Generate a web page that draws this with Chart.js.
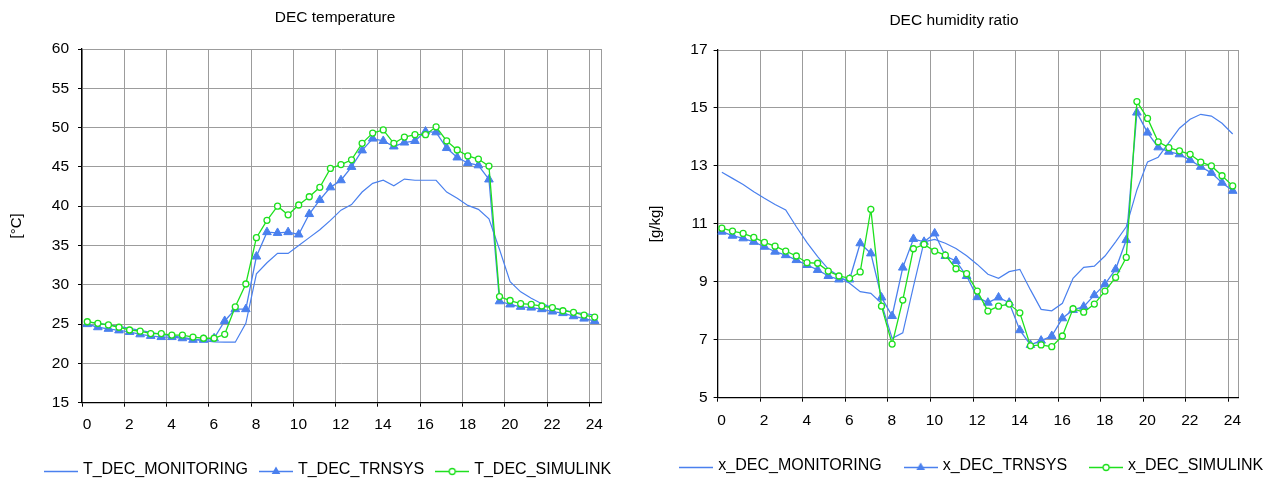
<!DOCTYPE html>
<html>
<head>
<meta charset="utf-8">
<script src="https://cdn.jsdelivr.net/npm/chart.js@4.4.1/dist/chart.umd.min.js"></script>
<style>
  body { margin: 0; background: #fff; width: 1279px; height: 483px; overflow: hidden; position: relative; }
  canvas { position: absolute; top: 0; }
  #tempChart { left: 0; }
  #humChart { left: 640px; }
</style>
</head>
<body>
<canvas id="tempChart" width="640" height="483"></canvas>
<canvas id="humChart" width="639" height="483"></canvas>
<script>
// hour of day, half-hour steps
const hours = [0, 0.5, 1, 1.5, 2, 2.5, 3, 3.5, 4, 4.5, 5, 5.5, 6, 6.5, 7, 7.5, 8, 8.5, 9, 9.5,
  10, 10.5, 11, 11.5, 12, 12.5, 13, 13.5, 14, 14.5, 15, 15.5, 16, 16.5, 17, 17.5, 18, 18.5, 19, 19.5,
  20, 20.5, 21, 21.5, 22, 22.5, 23, 23.5, 24];
const hourTicks = [0, 2, 4, 6, 8, 10, 12, 14, 16, 18, 20, 22, 24];
const tempTicks = [15, 20, 25, 30, 35, 40, 45, 50, 55, 60];
const humTicks = [5, 7, 9, 11, 13, 15, 17];

// DEC temperature [°C]
const tempMonitoring = [25.3, 25.1, 24.9, 24.7, 24.45, 24.2, 23.95, 23.7, 23.5, 23.3, 23.1, 22.9, 22.75, 22.7, 22.7, 25.1,
  31.4, 32.8, 34.0, 34.0, 35.0, 36.0, 37.0, 38.2, 39.5, 40.2, 41.8, 42.9, 43.3, 42.6, 43.45, 43.3,
  43.3, 43.3, 41.8, 41.0, 40.1, 39.6, 38.4, 34.5, 30.4, 29.1, 28.3, 27.6, 27.1, 26.8, 26.5, 26.35, 26.15];
const tempTrnsys = [25.0, 24.6, 24.4, 24.2, 24.0, 23.7, 23.5, 23.35, 23.35, 23.2, 23.0, 23.0, 23.2, 25.4, 26.9, 26.9,
  33.6, 36.7, 36.6, 36.7, 36.4, 39.0, 40.8, 42.4, 43.3, 45.0, 47.1, 48.6, 48.3, 47.6, 48.1, 48.3,
  49.5, 49.4, 47.4, 46.2, 45.5, 45.2, 43.4, 27.9, 27.5, 27.2, 27.1, 26.9, 26.6, 26.4, 26.0, 25.7, 25.4];
const tempSimulink = [25.3, 25.1, 24.9, 24.6, 24.25, 24.1, 23.8, 23.8, 23.6, 23.6, 23.35, 23.2, 23.2, 23.7, 27.2, 30.1,
  36.0, 38.2, 40.0, 38.9, 40.15, 41.2, 42.4, 44.8, 45.3, 45.9, 48.0, 49.3, 49.7, 48.0, 48.8, 49.1,
  49.1, 50.1, 48.3, 47.15, 46.4, 46.0, 45.1, 28.5, 28.0, 27.6, 27.5, 27.3, 27.1, 26.7, 26.5, 26.15, 25.9];

// DEC humidity ratio [g/kg]
const humMonitoring = [12.78, 12.57, 12.36, 12.11, 11.88, 11.67, 11.48, 10.9, 10.35, 9.87, 9.44, 9.2, 8.95, 8.66, 8.6, 8.26,
  7.05, 7.24, 8.83, 10.38, 10.46, 10.33, 10.15, 9.9, 9.6, 9.26, 9.12, 9.35, 9.43, 8.72, 8.05, 8.0,
  8.26, 9.12, 9.5, 9.54, 9.89, 10.38, 10.9, 12.17, 13.14, 13.3, 13.8, 14.3, 14.61, 14.78, 14.72, 14.47, 14.1];
const humTrnsys = [10.73, 10.59, 10.5, 10.38, 10.21, 10.04, 9.92, 9.75, 9.58, 9.41, 9.2, 9.08, 9.08, 10.33, 9.98, 8.46,
  7.82, 9.49, 10.48, 10.38, 10.67, 9.89, 9.72, 9.2, 8.47, 8.28, 8.46, 8.28, 7.33, 6.82, 6.97, 7.13,
  7.74, 8.03, 8.14, 8.54, 8.92, 9.43, 10.44, 14.84, 14.15, 13.64, 13.49, 13.4, 13.2, 12.97, 12.76, 12.42, 12.14];
const humSimulink = [10.85, 10.75, 10.67, 10.53, 10.36, 10.23, 10.06, 9.89, 9.66, 9.64, 9.37, 9.2, 9.12, 9.34, 11.5, 8.16,
  6.85, 8.37, 10.14, 10.29, 10.06, 9.92, 9.45, 9.28, 8.68, 7.99, 8.16, 8.23, 7.93, 6.79, 6.82, 6.76,
  7.13, 8.07, 7.95, 8.23, 8.68, 9.15, 9.84, 15.22, 14.64, 13.83, 13.63, 13.52, 13.4, 13.13, 13.0, 12.66, 12.31];

const BLUE = '#4a80ee';
const GREEN = '#1ee01e';
const GRID = '#9c9c9c';
const FONT = '"Liberation Sans", Arial, sans-serif';

function pairs(values) {
  return values.map((v, i) => ({ x: hours[i], y: v }));
}

// little line+marker pictures for the legend
function legendIcon(kind, color) {
  const c = document.createElement('canvas');
  c.width = 34; c.height = 16;
  const g = c.getContext('2d');
  g.strokeStyle = color; g.lineWidth = 1.3;
  g.beginPath(); g.moveTo(0, 9.5); g.lineTo(34, 9.5); g.stroke();
  if (kind === 'triangle') {
    const r = 5;
    g.fillStyle = color;
    g.beginPath();
    g.moveTo(17, 9.5 - r);
    g.lineTo(17 + r * 0.866, 9.5 + r / 2);
    g.lineTo(17 - r * 0.866, 9.5 + r / 2);
    g.closePath(); g.fill();
  } else if (kind === 'circle') {
    g.fillStyle = '#fff';
    g.beginPath(); g.arc(17, 9.5, 3, 0, Math.PI * 2); g.fill(); g.stroke();
  }
  return c;
}
const icons = [legendIcon('line', BLUE), legendIcon('triangle', BLUE), legendIcon('circle', GREEN)];

// move title / legend after layout
const nudge = {
  id: 'nudge',
  afterLayout(chart, args, o) {
    const t = chart.titleBlock, l = chart.legend;
    t.left += o.titleX; t.right += o.titleX;
    l.left += o.legendX; l.right += o.legendX;
    l.top += o.legendY; l.bottom += o.legendY;
  }
};

function makeChart(id, s) {
  return new Chart(document.getElementById(id), {
    type: 'line',
    data: {
      datasets: [
        { label: s.names[0], data: pairs(s.monitoring), borderColor: BLUE, borderWidth: 1.2, pointRadius: 0, order: 2 },
        { label: s.names[1], data: pairs(s.trnsys), borderColor: BLUE, borderWidth: 1.3,
          pointStyle: 'triangle', pointRadius: 5, pointBorderWidth: 1, pointBackgroundColor: BLUE, pointBorderColor: BLUE, order: 1 },
        { label: s.names[2], data: pairs(s.simulink), borderColor: GREEN, borderWidth: 1.3,
          pointStyle: 'circle', pointRadius: 3, pointBorderWidth: 1.3, pointBackgroundColor: '#fff', pointBorderColor: GREEN, order: 0 }
      ]
    },
    plugins: [nudge],
    options: {
      responsive: false,
      animation: false,
      devicePixelRatio: 1,
      layout: { padding: 0 },
      plugins: {
        title: { display: true, text: s.title, color: '#000', font: { family: FONT, size: 15.5, weight: 'normal' }, padding: s.titlePad },
        legend: {
          position: 'bottom',
          labels: {
            usePointStyle: true, pointStyleWidth: 28, padding: s.legendGap, color: '#000',
            font: { family: FONT, size: 16 },
            generateLabels(chart) {
              const items = Chart.defaults.plugins.legend.labels.generateLabels(chart);
              items.sort((a, b) => a.datasetIndex - b.datasetIndex);
              items.forEach(it => { it.pointStyle = icons[it.datasetIndex]; });
              return items;
            }
          }
        },
        tooltip: { enabled: false },
        nudge: s.nudge
      },
      scales: {
        x: {
          type: 'linear', min: s.xMin, max: s.xMax,
          afterBuildTicks: sc => { sc.ticks = hourTicks.map(h => ({ value: h - s.gridShift })).concat([{ value: s.xMax }]); },
          afterFit: sc => { sc.height = s.xHeight; },
          ticks: {
            autoSkip: false, maxRotation: 0, labelOffset: s.labelOffset, padding: s.xTickPad, color: '#000',
            font: { family: FONT, size: 15.5 },
            callback: (v, i) => (i < hourTicks.length ? String(hourTicks[i]) : '')
          },
          grid: { color: GRID, lineWidth: 1, tickLength: 4, tickColor: c => (c.index < hourTicks.length ? '#000' : 'rgba(0,0,0,0)') },
          border: { color: '#000', width: 1.3 }
        },
        y: {
          min: s.yTicks[0], max: s.yTicks[s.yTicks.length - 1],
          afterBuildTicks: sc => { sc.ticks = s.yTicks.map(v => ({ value: v })); },
          afterFit: sc => { sc.width = s.yWidth; },
          ticks: { padding: s.yTickPad, color: '#000', font: { family: FONT, size: 15.5 } },
          grid: { color: GRID, lineWidth: 1, tickLength: 4, tickColor: '#000' },
          border: { color: '#000', width: 1.3 },
          title: { display: true, text: s.yTitle, color: '#000', font: { family: FONT, size: 15 }, padding: { top: s.yTitlePad, bottom: 0 } }
        },
        // empty strip on the right so the plot ends where the reference does
        yRight: {
          position: 'right', min: s.yTicks[0], max: s.yTicks[s.yTicks.length - 1],
          ticks: { display: false }, grid: { display: false }, border: { display: false },
          afterFit: sc => { sc.width = s.padRight; }
        }
      }
    }
  });
}

makeChart('tempChart', {
  title: 'DEC temperature', yTitle: '[°C]',
  names: ['T_DEC_MONITORING', 'T_DEC_TRNSYS', 'T_DEC_SIMULINK'],
  monitoring: tempMonitoring, trnsys: tempTrnsys, simulink: tempSimulink,
  yTicks: tempTicks,
  xMin: -0.25, xMax: 24.3, gridShift: 0.25, labelOffset: 5,
  padRight: 39, yWidth: 82, xHeight: 40.3, xTickPad: 9, yTickPad: 9, yTitlePad: 8,
  titlePad: { top: 8.2, bottom: 22.2 }, legendGap: 14,
  nudge: { titleX: 15, legendX: 9, legendY: 5 }
});

makeChart('humChart', {
  title: 'DEC humidity ratio', yTitle: '[g/kg]',
  names: ['x_DEC_MONITORING', 'x_DEC_TRNSYS', 'x_DEC_SIMULINK'],
  monitoring: humMonitoring, trnsys: humTrnsys, simulink: humSimulink,
  yTicks: humTicks,
  xMin: -0.2, xMax: 24.25, gridShift: 0.2, labelOffset: 4,
  padRight: 41, yWidth: 77.6, xHeight: 34.3, xTickPad: 10, yTickPad: 6, yTitlePad: 7,
  titlePad: { top: 11.5, bottom: 19.9 }, legendGap: 25,
  nudge: { titleX: -5.5, legendX: 13.3, legendY: 1 }
});
</script>
</body>
</html>
